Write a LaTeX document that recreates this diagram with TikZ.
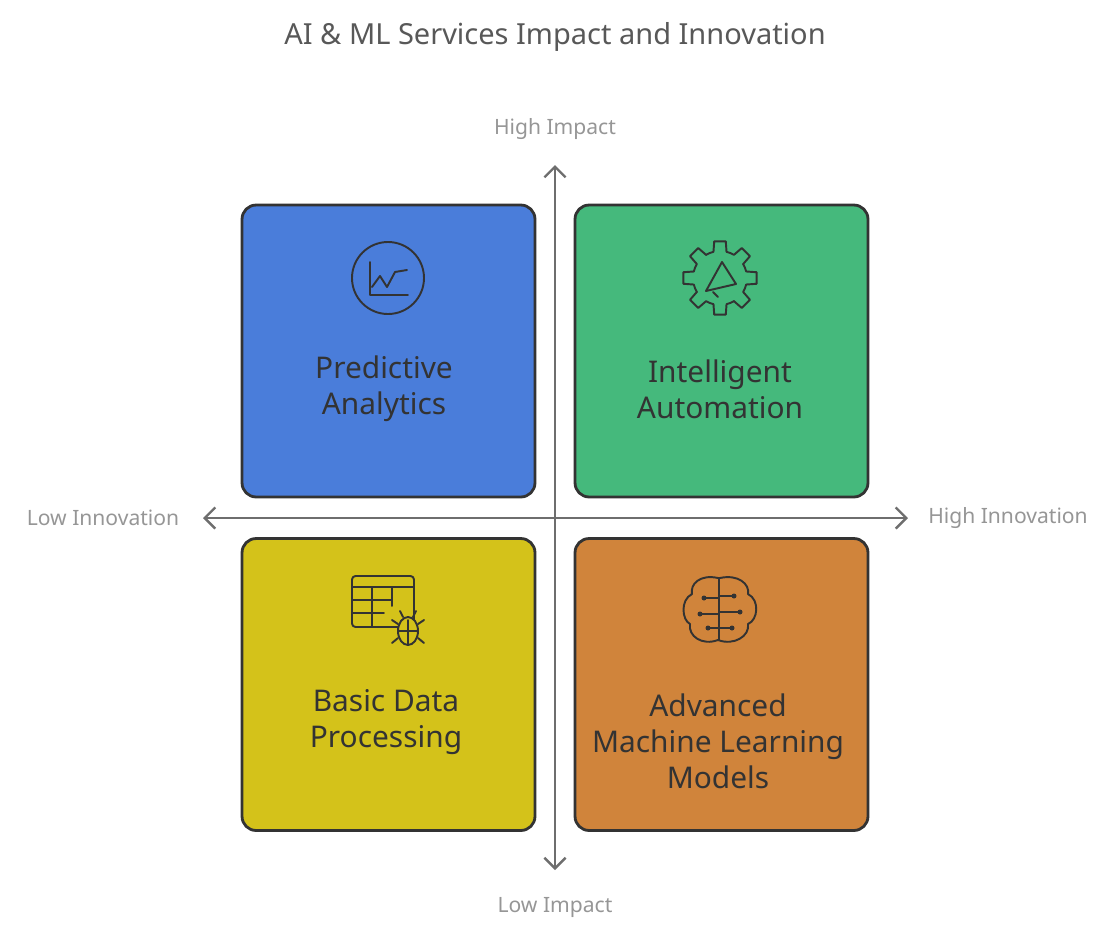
\documentclass[tikz,border=0pt]{standalone}
\usepackage{fontspec}
\setmainfont{Noto Sans}
\usetikzlibrary{arrows.meta}
\definecolor{bluebox}{RGB}{74, 125, 218}
\definecolor{greenbox}{RGB}{69, 185, 124}
\definecolor{yellowbox}{RGB}{212, 194, 26}
\definecolor{orangebox}{RGB}{208, 132, 59}
\definecolor{edge}{RGB}{51, 51, 51}
\definecolor{axis}{RGB}{110, 110, 110}
\definecolor{labelgray}{RGB}{150, 150, 150}
\tikzset{
  quad/.style={draw=edge, line width=1.6pt, rounded corners=8pt, minimum width=5.86cm, minimum height=5.84cm},
  quadtext/.style={font=\fontsize{17}{20.5}\selectfont, text=edge, align=center},
  icon/.style={draw=edge, line width=1.1pt, line cap=round, line join=round},
  axislabel/.style={text=labelgray, font=\fontsize{12}{14}\selectfont}
}
\begin{document}
\begin{tikzpicture}[x=0.02cm, y=-0.02cm]
  \useasboundingbox (0, 0) rectangle (1110, 944);

  \node[font=\fontsize{16.5}{20}\selectfont, text=axis!80!black] (title) at (555, 37) {AI \& ML Services Impact and Innovation};

  % quadrants
  \node[quad, fill=bluebox] (pa) at (388.5, 351) {};
  \node[quad, fill=greenbox] (ia) at (721.5, 351) {};
  \node[quad, fill=yellowbox] (bd) at (388.5, 684.5) {};
  \node[quad, fill=orangebox] (am) at (721.5, 684.5) {};

  \node[quadtext] at (384, 389) {Predictive\\Analytics};
  \node[quadtext] at (720, 389) {Intelligent\\Automation};
  \node[quadtext] at (386, 722) {Basic Data\\Processing};
  \node[quadtext] at (718, 741) {Advanced\\Machine Learning\\Models};

  % axes
  \coordinate (top) at (555, 165);
  \coordinate (bottom) at (555, 870);
  \coordinate (left) at (203, 518);
  \coordinate (right) at (908, 518);
  \draw[axis, line width=1.4pt, {Straight Barb[length=6pt, width=12pt]}-{Straight Barb[length=6pt, width=12pt]}] (bottom) -- (top);
  \draw[axis, line width=1.4pt, {Straight Barb[length=6pt, width=12pt]}-{Straight Barb[length=6pt, width=12pt]}] (left) -- (right);
  \node[axislabel] (hi) at (555, 129) {High Impact};
  \node[axislabel] (li) at (555, 907) {Low Impact};
  \node[axislabel] (lo) at (103, 518) {Low Innovation};
  \node[axislabel] (ho) at (1008, 518) {High Innovation};

  % chart icon
  \draw[icon] (388, 278) circle (36);
  \draw[icon] (370, 262) -- (370, 295) -- (408, 295);
  \draw[icon] (372, 287) -- (380, 276) -- (387, 287) -- (395, 272) -- (407, 270);

  % gear icon
  \foreach \a in {0, 45, ..., 315}
    \draw[icon] ([shift={(720, 278)}]\a-31:27) arc[start angle=\a-31, end angle=\a-14, radius=27]
      -- ([shift={(720, 278)}]\a-9:37) -- ([shift={(720, 278)}]\a+9:37) -- ([shift={(720, 278)}]\a+14:27);
  \draw[icon] (706, 291) -- (722, 262) -- (736, 284) -- cycle;
  \draw[icon] (713, 292) -- (718, 297);

  % table with bug icon
  \draw[icon, rounded corners=2pt] (352, 576) rectangle (414, 627);
  \draw[icon] (352, 587) -- (414, 587);
  \draw[icon] (352, 600) -- (392, 600);
  \draw[icon] (352, 613) -- (384, 613);
  \draw[icon] (372, 587) -- (372, 627);
  \draw[icon] (392, 587) -- (392, 606);
  \draw[icon, fill=yellowbox] (408, 631) ellipse (10 and 14);
  \draw[icon] (398, 631) -- (408, 631) -- (418, 631);
  \draw[icon] (408, 620) -- (408, 645);
  \draw[icon] (398, 624) -- (392, 620) (418, 624) -- (424, 620)
              (398, 638) -- (392, 643) (418, 638) -- (424, 643)
              (403, 617) -- (400, 611) (413, 617) -- (416, 611);

  % brain icon
  \draw[icon] (718, 578) .. controls (700, 574) and (690, 584) .. (692, 594)
    .. controls (680, 600) and (682, 620) .. (690, 624)
    .. controls (688, 636) and (702, 646) .. (718, 640)
    .. controls (734, 646) and (750, 636) .. (748, 624)
    .. controls (758, 620) and (760, 600) .. (748, 594)
    .. controls (750, 584) and (738, 574) .. (720, 578) -- cycle;
  \draw[icon] (719, 579) -- (719, 640);
  \draw[icon] (719, 598) -- (704, 598) (719, 614) -- (700, 614) (719, 628) -- (708, 628)
              (719, 596) -- (734, 596) (719, 612) -- (740, 612) (719, 628) -- (732, 628);
  \foreach \p in {(704,598), (700,614), (708,628), (734,596), (740,612), (732,628)}
    \fill[edge] \p circle (2.5);
\end{tikzpicture}
\end{document}
